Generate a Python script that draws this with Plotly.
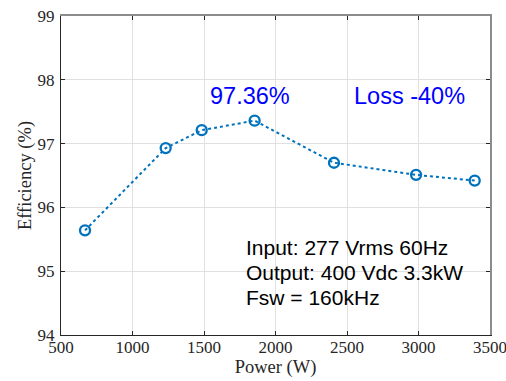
import plotly.graph_objects as go

# Measured converter efficiency versus output power
power_w = [668, 1232, 1484, 1854, 2409, 2983, 3393]
efficiency_pct = [95.64, 96.93, 97.21, 97.36, 96.70, 96.51, 96.42]

x_ticks = [500, 1000, 1500, 2000, 2500, 3000, 3500]
y_ticks = [94, 95, 96, 97, 98, 99]

peak_label = "97.36%"
loss_label = "Loss -40%"
spec_lines = ["Input: 277 Vrms 60Hz", "Output: 400 Vdc 3.3kW", "Fsw = 160kHz"]

BLUE = "#0072BD"
AX_DARK = "#262626"
AX_LIGHT = "#8c8c8c"
GRID = "#e0e0e0"
SERIF = "Liberation Serif, Times New Roman, serif"
SANS = "Liberation Sans, Arial, sans-serif"

fig = go.Figure()
fig.add_trace(go.Scatter(
    x=power_w, y=efficiency_pct, mode="lines+markers",
    line=dict(color=BLUE, width=2, dash="dot"),
    marker=dict(symbol="circle-open", size=10, color=BLUE, line=dict(width=2.3, color=BLUE)),
    showlegend=False, hoverinfo="skip", cliponaxis=False,
))
# empty trace so the top/right frame axes get drawn
fig.add_trace(go.Scatter(x=[None], y=[None], xaxis="x2", yaxis="y2",
                         showlegend=False, hoverinfo="skip"))

common_tick = dict(ticks="inside", ticklen=4, tickwidth=1, tickcolor=AX_DARK)

fig.update_layout(
    width=506, height=381,
    margin=dict(l=61, r=16, t=16, b=46),
    paper_bgcolor="white", plot_bgcolor="white",
    xaxis=dict(
        range=[500, 3500], tickvals=x_ticks, ticktext=[str(v) for v in x_ticks],
        showgrid=True, gridcolor=GRID, gridwidth=1.3, zeroline=False,
        showline=True, linecolor=AX_DARK, linewidth=1.3,
        tickfont=dict(family=SERIF, size=17, color=AX_DARK),
        title=dict(text="Power (W)", font=dict(family=SERIF, size=18.5, color=AX_DARK), standoff=3),
        ticklabelstandoff=-4, ticklabeloverflow="allow", automargin=False,
        **common_tick,
    ),
    yaxis=dict(
        range=[94, 99], tickvals=y_ticks, ticktext=[str(v) for v in y_ticks],
        showgrid=True, gridcolor=GRID, gridwidth=1.3, zeroline=False,
        showline=True, linecolor=AX_DARK, linewidth=1.3,
        tickfont=dict(family=SERIF, size=17, color=AX_DARK),
        title=dict(text="Efficiency (%)", font=dict(family=SERIF, size=18.5, color=AX_DARK), standoff=0),
        ticklabelstandoff=2, ticklabeloverflow="allow", automargin=False,
        **common_tick,
    ),
    xaxis2=dict(
        overlaying="x", side="top", anchor="y2", matches="x",
        range=[500, 3500], tickvals=x_ticks, showticklabels=False,
        showgrid=False, zeroline=False, automargin=False,
        showline=True, linecolor=AX_LIGHT, linewidth=1.5,
        **common_tick,
    ),
    yaxis2=dict(
        overlaying="y", side="right", anchor="x2", matches="y",
        range=[94, 99], tickvals=y_ticks, showticklabels=False,
        showgrid=False, zeroline=False, automargin=False,
        showline=True, linecolor=AX_LIGHT, linewidth=1.5,
        **common_tick,
    ),
)

fig.add_annotation(text=peak_label, xref="paper", yref="paper", x=0.343, y=0.748,
                   xanchor="left", yanchor="middle", showarrow=False,
                   font=dict(family=SANS, size=23.5, color="#0000FF"))
fig.add_annotation(text=loss_label, xref="paper", yref="paper", x=0.679, y=0.748,
                   xanchor="left", yanchor="middle", showarrow=False,
                   font=dict(family=SANS, size=23.5, color="#0000FF"))

for line_text, ypos in zip(spec_lines, [0.273, 0.195, 0.119]):
    fig.add_annotation(text=line_text, xref="paper", yref="paper", x=0.427, y=ypos,
                       xanchor="left", yanchor="middle", showarrow=False,
                       font=dict(family=SANS, size=21, color="black"))

fig.write_html("out.html")
